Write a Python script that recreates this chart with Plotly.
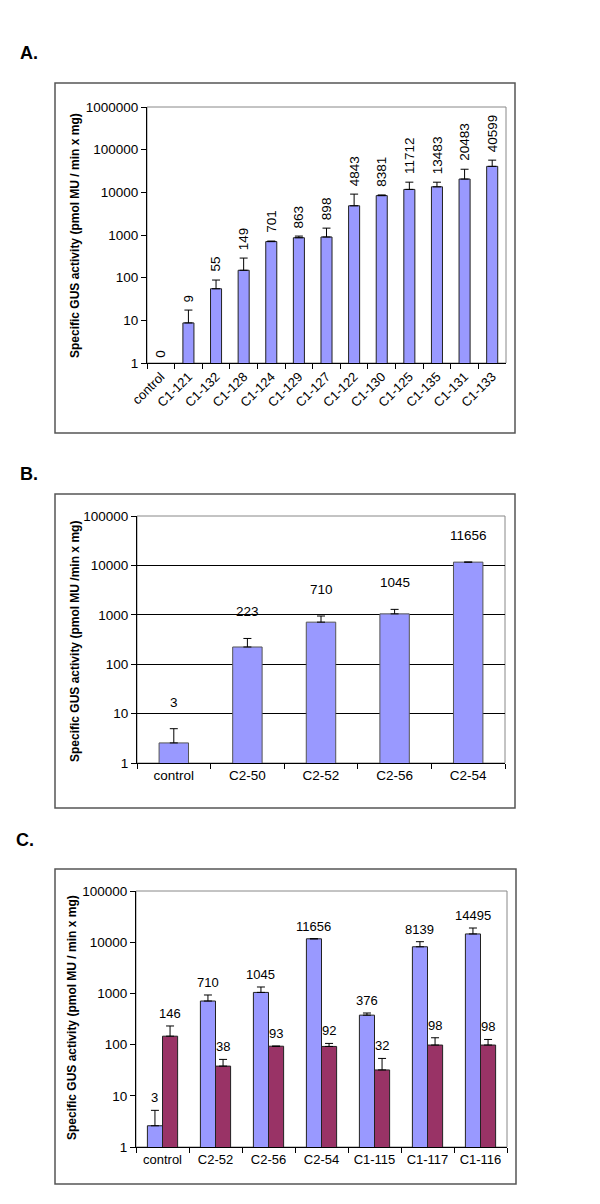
import math
import plotly.graph_objects as go

# ---------------- data ----------------
a_categories = ["control", "C1-121", "C1-132", "C1-128", "C1-124", "C1-129", "C1-127",
                "C1-122", "C1-130", "C1-125", "C1-135", "C1-131", "C1-133"]
a_values = [0, 8.7, 55, 149, 701, 863, 898, 4843, 8381, 11712, 13483, 20483, 40599]
a_errors = [0, 8.7, 33, 139, 20, 80, 550, 4240, 300, 5600, 3800, 14300, 16200]
a_tickvals = [1, 10, 100, 1000, 10000, 100000, 1000000]
a_ticktext = ["1", "10", "100", "1000", "10000", "100000", "1000000"]

b_categories = ["control", "C2-50", "C2-52", "C2-56", "C2-54"]
b_values = [2.55, 223, 710, 1045, 11656]
b_errors = [2.4, 109, 235, 243, 0]
bc_tickvals = [1, 10, 100, 1000, 10000, 100000]
bc_ticktext = ["1", "10", "100", "1000", "10000", "100000"]

c_categories = ["control", "C2-52", "C2-56", "C2-54", "C1-115", "C1-117", "C1-116"]
c_blue_values = [2.6, 710, 1045, 11656, 376, 8139, 14495]
c_blue_errors = [2.6, 221, 289, 0, 38, 2090, 4435]
c_red_values = [146, 38, 93, 92, 32, 98, 98]
c_red_errors = [85, 13.4, 0, 13.5, 21.7, 38, 28]

# ---------------- style ----------------
W, H = 600, 1204
FONT = "Liberation Sans, Arial, sans-serif"
BLUE = "#9999FF"
MAROON = "#993366"
EDGE = "#222222"


def px(x):
    return x / W


def py(y):
    return 1 - y / H


fig = go.Figure()

err_style = dict(type="data", symmetric=False, color="black", thickness=1, width=4)

# Panel A
fig.add_trace(go.Bar(
    x=a_categories, y=a_values, width=0.4, marker_color=BLUE,
    marker_line=dict(color=EDGE, width=1),
    error_y=dict(array=a_errors, arrayminus=[0] * len(a_errors), **err_style),
    xaxis="x", yaxis="y", showlegend=False))

# Panel B
fig.add_trace(go.Bar(
    x=b_categories, y=b_values, width=0.4, marker_color=BLUE,
    marker_line=dict(color="#555555", width=1),
    error_y=dict(array=b_errors, arrayminus=[0] * len(b_errors), **err_style),
    xaxis="x2", yaxis="y2", showlegend=False))

# Panel C
CW = 0.285
fig.add_trace(go.Bar(
    x=c_categories, y=c_blue_values, width=CW, offset=-CW, marker_color=BLUE,
    marker_line=dict(color=EDGE, width=1),
    error_y=dict(array=c_blue_errors, arrayminus=[0] * len(c_blue_errors), **err_style),
    xaxis="x3", yaxis="y3", showlegend=False))
fig.add_trace(go.Bar(
    x=c_categories, y=c_red_values, width=CW, offset=0, marker_color=MAROON,
    marker_line=dict(color=EDGE, width=1),
    error_y=dict(array=c_red_errors, arrayminus=[0] * len(c_red_errors), **err_style),
    xaxis="x3", yaxis="y3", showlegend=False))

annotations = []
# value labels A (vertical)
for i, (v, e) in enumerate(zip(a_values, a_errors)):
    top = v + e
    ylog = math.log10(top) if top > 0 else 0
    annotations.append(dict(x=i, y=ylog, xref="x", yref="y", text=f"{v:.0f}",
                            textangle=-90, showarrow=False, yanchor="bottom",
                            xanchor="center", yshift=6 if v > 0 else 3,
                            font=dict(family=FONT, size=13.5, color="black")))
# value labels B
for i, (v, e) in enumerate(zip(b_values, b_errors)):
    annotations.append(dict(x=i, y=math.log10(v + e), xref="x2", yref="y2",
                            text=f"{v:.0f}", showarrow=False, yanchor="bottom",
                            xanchor="center", yshift=17,
                            font=dict(family=FONT, size=13.5, color="black")))
# value labels C
for i, (v, e) in enumerate(zip(c_blue_values, c_blue_errors)):
    annotations.append(dict(x=i - CW / 2, y=math.log10(v + e), xref="x3", yref="y3",
                            text=f"{v:.0f}", showarrow=False, yanchor="bottom",
                            xanchor="center", yshift=3,
                            font=dict(family=FONT, size=13, color="black")))
for i, (v, e) in enumerate(zip(c_red_values, c_red_errors)):
    annotations.append(dict(x=i + CW / 2, y=math.log10(v + e), xref="x3", yref="y3",
                            text=f"{v:.0f}", showarrow=False, yanchor="bottom",
                            xanchor="center", yshift=3,
                            font=dict(family=FONT, size=13, color="black")))

# panel letters
for lab, xx, yy in (("A.", 21, 45), ("B.", 21, 466), ("C.", 17, 832)):
    annotations.append(dict(x=px(xx), y=py(yy), xref="paper", yref="paper", text=f"<b>{lab}</b>",
                            xanchor="center", yanchor="middle", showarrow=False,
                            font=dict(family=FONT, size=18, color="black")))

# y titles
for txt, xx, yy in (("Specific GUS activity (pmol MU / min x mg)", 67, 228),
                     ("Specific GUS activity (pmol MU /min x mg)", 67, 634),
                     ("Specific GUS activity (pmol MU / min x mg)", 64, 1010)):
    annotations.append(dict(x=px(xx), y=py(yy), xref="paper", yref="paper", text=f"<b>{txt}</b>",
                            textangle=-90, showarrow=False, xanchor="center", yanchor="middle",
                            font=dict(family=FONT, size=12, color="black")))

shapes = []
# outer boxes
for x1, y0, y1 in ((507, 75, 425), (507, 486, 800), (508, 861, 1176)):
    shapes.append(dict(type="rect", xref="paper", yref="paper", x0=px(47), x1=px(x1),
                       y0=py(y1), y1=py(y0), line=dict(color="#555555", width=1.5), layer="below"))
# plot area borders
for xr, yr in (("x", "y"), ("x2", "y2"), ("x3", "y3")):
    shapes.append(dict(type="rect", xref=f"{xr} domain", yref=f"{yr} domain", x0=0, x1=1, y0=0, y1=1,
                       line=dict(color="#888888", width=1), layer="below"))

tickfont = dict(family=FONT, size=13.5, color="black")
catfont = dict(family=FONT, size=13, color="black")

xcommon = dict(type="category", showline=True, linecolor="black", linewidth=1,
               ticks="outside", ticklen=5, tickcolor="black", tickson="boundaries",
               showgrid=False, zeroline=False, automargin=False, fixedrange=True)
ycommon = dict(type="log", showline=True, linecolor="black", linewidth=1,
               ticks="outside", ticklen=5, tickcolor="black", zeroline=False,
               automargin=False, tickfont=tickfont, fixedrange=True)

fig.update_layout(
    width=W, height=H, margin=dict(l=0, r=0, t=0, b=0),
    paper_bgcolor="white", plot_bgcolor="white",
    barmode="overlay", showlegend=False,
    font=dict(family=FONT, color="black"),
    xaxis=dict(domain=[px(139), px(498)], anchor="y", tickangle=-45, tickfont=catfont, **xcommon),
    yaxis=dict(domain=[py(355), py(99)], anchor="x", range=[0, 6],
               tickvals=a_tickvals, ticktext=a_ticktext, showgrid=False, **ycommon),
    xaxis2=dict(domain=[px(129), px(497)], anchor="y2", tickangle=0,
                tickfont=dict(family=FONT, size=13.5, color="black"), **xcommon),
    yaxis2=dict(domain=[py(755), py(508)], anchor="x2", range=[0, 5],
                tickvals=bc_tickvals, ticktext=bc_ticktext, showgrid=True,
                gridcolor="black", gridwidth=1, **ycommon),
    xaxis3=dict(domain=[px(128), px(499)], anchor="y3", tickangle=0, tickfont=catfont, **xcommon),
    yaxis3=dict(domain=[py(1139), py(883)], anchor="x3", range=[0, 5],
                tickvals=bc_tickvals, ticktext=bc_ticktext, showgrid=False, **ycommon),
    annotations=annotations,
    shapes=shapes,
)

fig.write_html("out.html")
